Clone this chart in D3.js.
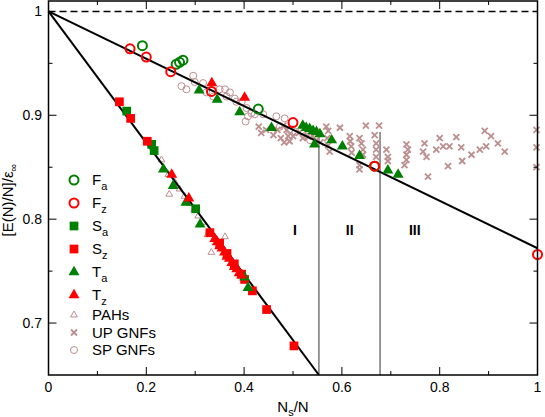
<!DOCTYPE html>
<html lang="en">
<head>
    <meta charset="UTF-8">
    <script type="text/javascript" src="https://cdnjs.cloudflare.com/ajax/libs/d3/7.8.5/d3.min.js"></script>
    <title>E(N)/N vs Ns/N</title>
    <style>
        body { margin: 0; background: #fff; }
        text { font-family: "Liberation Sans", Arial, sans-serif; }
    </style>
</head>
<body>
<script type="text/javascript">
    // ---- data ----
    var fA = [[0.192,0.967],[0.261,0.949],[0.268,0.951],[0.275,0.953],[0.429,0.906],[0.667,0.851]];
    var fZ = [[0.1667,0.964],[0.2,0.956],[0.25,0.942],[0.3333,0.923],[0.5,0.893],[0.6667,0.851],[1,0.766]];
    var sA = [[0.160,0.904],[0.211,0.872],[0.216,0.866],[0.301,0.810]];
    var sZ = [[0.145,0.913],[0.168,0.897],[0.202,0.875],[0.330,0.787],[0.350,0.777],[0.365,0.767],
              [0.380,0.757],[0.395,0.747],[0.401,0.742],[0.417,0.731],[0.446,0.713],[0.502,0.678]];
    var tA = [[0.235,0.848],[0.255,0.832],[0.281,0.816],[0.310,0.795],[0.401,0.744],[0.408,0.734],
              [0.308,0.924],[0.345,0.915],[0.391,0.903],[0.456,0.888],
              [0.520,0.890],[0.527,0.888],[0.534,0.887],[0.541,0.885],[0.548,0.884],[0.555,0.882],
              [0.544,0.872],[0.579,0.876],[0.601,0.870],[0.636,0.861],[0.694,0.847],[0.715,0.843]];
    var tZ = [[0.252,0.843],[0.287,0.820],[0.340,0.781],[0.345,0.778],[0.350,0.774],[0.355,0.772],
              [0.360,0.768],[0.365,0.764],[0.370,0.762],[0.375,0.758],[0.380,0.754],[0.385,0.752],
              [0.390,0.748],[0.395,0.746],[0.334,0.931],[0.401,0.917]];
    var pahs = [[0.231,0.857],[0.247,0.824],[0.245,0.843],[0.258,0.836],[0.268,0.829],[0.278,0.822],
                [0.288,0.815],[0.298,0.809],[0.306,0.803],[0.316,0.797],[0.325,0.785],[0.333,0.768],
                [0.342,0.781],[0.352,0.775],[0.361,0.783],[0.372,0.762],[0.384,0.755],[0.396,0.748]];
    var upGNFs = [[0.430,0.889],[0.435,0.883],[0.445,0.886],[0.460,0.881],[0.468,0.886],[0.475,0.878],
                  [0.480,0.890],[0.482,0.874],[0.490,0.880],[0.487,0.886],[0.493,0.875],[0.500,0.880],
                  [0.512,0.883],[0.520,0.878],[0.530,0.880],[0.540,0.880],[0.548,0.876],[0.556,0.874],
                  [0.568,0.889],[0.572,0.885],[0.570,0.878],[0.572,0.871],[0.575,0.865],
                  [0.596,0.888],[0.616,0.880],[0.617,0.875],[0.619,0.870],[0.620,0.864],
                  [0.636,0.878],[0.640,0.873],[0.643,0.867],[0.643,0.862],[0.636,0.852],[0.636,0.848],
                  [0.649,0.890],[0.676,0.890],[0.667,0.881],[0.670,0.873],[0.670,0.867],[0.670,0.860],
                  [0.691,0.867],[0.694,0.860],[0.694,0.856],
                  [0.732,0.872],[0.735,0.867],[0.732,0.862],[0.732,0.857],[0.728,0.852],
                  [0.769,0.873],[0.766,0.865],[0.773,0.860],[0.776,0.841],[0.793,0.867],
                  [0.800,0.878],[0.807,0.870],[0.820,0.870],[0.817,0.851],[0.834,0.879],
                  [0.844,0.869],[0.846,0.856],[0.865,0.862],[0.882,0.867],[0.892,0.885],
                  [0.905,0.880],[0.895,0.870],[0.919,0.873],[0.933,0.865],
                  [0.998,0.886],[0.998,0.869],[0.998,0.850]];
    var spGNFs = [[0.272,0.928],[0.282,0.925],[0.296,0.938],[0.299,0.932],[0.316,0.931],[0.323,0.922],
                  [0.337,0.918],[0.350,0.925],[0.361,0.925],[0.364,0.918],[0.371,0.922],[0.381,0.916],
                  [0.384,0.913],[0.395,0.913],[0.405,0.907],[0.408,0.899],[0.415,0.902],[0.422,0.901],
                  [0.403,0.894],[0.439,0.901],[0.466,0.899],[0.473,0.889],[0.483,0.897],[0.492,0.886],
                  [0.505,0.884],[0.525,0.880],[0.535,0.876]];

    var upperFit = [[0,1],[1,0.772]];
    var lowerFit = [[0,1],[0.553,0.65]];
    var dividers = [0.553,0.678];
    var regionNames = ["I","II","III"];
    var regionX = [0.504,0.616,0.749];

    var xTicks = [0,0.2,0.4,0.6,0.8,1];
    var xMinor = [0.1,0.3,0.5,0.7,0.9];
    var yTicks = [0.7,0.8,0.9,1];
    var yMinor = [0.75,0.85,0.95];

    var legendLabels = ["F","F","S","S","T","T","PAHs","UP GNFs","SP GNFs"];
    var legendSubs = ["a","z","a","z","a","z","","",""];
    var legendMarks = ["ringG","ringR","sqG","sqR","triG","triR","pah","up","sp"];

    var green = "#008000", red = "#ff0000", pink = "#bc8f8f";

    var svg = d3.select("body").append("svg")
            .attr("width",545)
            .attr("height",417);

    var x = d3.scaleLinear().domain([0,1]).range([48.5,537.5]);
    var y = d3.scaleLinear().domain([0.65,1.01]).range([375,1]);

    // marker drawers
    var triPath = d3.symbol().type(d3.symbolTriangle).size(52)();
    var pahPath = d3.symbol().type(d3.symbolTriangle).size(20)();
    var sqPath = d3.symbol().type(d3.symbolSquare).size(76)();
    var xPath = "M-3,-3L3,3M-3,3L3,-3";

    function mark(g, kind){
        if(kind=="ringG" || kind=="ringR"){
            g.append("circle").attr("r",4.5).attr("fill","none")
                    .attr("stroke",kind=="ringG"?green:red).attr("stroke-width",2);
        } else if(kind=="sqG" || kind=="sqR"){
            g.append("path").attr("d",sqPath).attr("fill",kind=="sqG"?green:red);
        } else if(kind=="triG" || kind=="triR"){
            g.append("path").attr("d",triPath).attr("fill",kind=="triG"?green:red);
        } else if(kind=="pah"){
            g.append("path").attr("d",pahPath).attr("fill","none").attr("stroke",pink).attr("stroke-width",1);
        } else if(kind=="up"){
            g.append("path").attr("d",xPath).attr("fill","none").attr("stroke",pink).attr("stroke-width",1.8);
        } else if(kind=="sp"){
            g.append("circle").attr("r",3.5).attr("fill","none").attr("stroke",pink).attr("stroke-width",1);
        }
    }

    function drawSeries(data, kind){
        svg.append("g").selectAll("g")
                .data(data)
                .enter()
                .append("g")
                .attr("transform",function(d){ return "translate(" + x(d[0]) + "," + y(d[1]) + ")"; })
                .each(function(){ mark(d3.select(this), kind); });
    }

    // dashed reference at 1
    svg.append("line")
            .attr("x1",x(0)).attr("x2",x(1))
            .attr("y1",y(1)).attr("y2",y(1))
            .attr("stroke","#000").attr("stroke-width",1.5)
            .attr("stroke-dasharray","7,4");

    // region dividers
    svg.selectAll("line.div")
            .data(dividers)
            .enter()
            .append("line")
            .attr("class","div")
            .attr("x1",function(d){return x(d);}).attr("x2",function(d){return x(d);})
            .attr("y1",y(0.884)).attr("y2",y(0.65))
            .attr("stroke","#555").attr("stroke-width",1.2);

    svg.selectAll("text.region")
            .data(regionNames)
            .enter()
            .append("text")
            .attr("class","region")
            .attr("x",function(d,i){return x(regionX[i]);})
            .attr("y",y(0.785))
            .attr("text-anchor","middle")
            .attr("font-size",14)
            .attr("font-weight","bold")
            .text(function(d){return d;});

    // background groups first
    drawSeries(spGNFs,"sp");
    drawSeries(upGNFs,"up");
    drawSeries(pahs,"pah");

    // fits
    var line = d3.line().x(function(d){return x(d[0]);}).y(function(d){return y(d[1]);});
    [upperFit, lowerFit].forEach(function(f){
        svg.append("path").attr("d",line(f)).attr("fill","none")
                .attr("stroke","#000").attr("stroke-width",2);
    });

    drawSeries(sA,"sqG");
    drawSeries(sZ,"sqR");
    drawSeries(tA,"triG");
    drawSeries(tZ,"triR");
    drawSeries(fA,"ringG");
    drawSeries(fZ,"ringR");

    // frame
    svg.append("rect")
            .attr("x",x(0)).attr("y",y(1.01))
            .attr("width",x(1)-x(0)).attr("height",y(0.65)-y(1.01))
            .attr("fill","none").attr("stroke","#000").attr("stroke-width",1.5);

    // ticks, pointing inwards on all four sides
    var tg = svg.append("g").attr("stroke","#000").attr("stroke-width",1);
    function xt(vals, len){
        vals.forEach(function(v){
            tg.append("line").attr("x1",x(v)).attr("x2",x(v)).attr("y1",y(0.65)).attr("y2",y(0.65)-len);
            tg.append("line").attr("x1",x(v)).attr("x2",x(v)).attr("y1",y(1.01)).attr("y2",y(1.01)+len);
        });
    }
    function yt(vals, len){
        vals.forEach(function(v){
            tg.append("line").attr("y1",y(v)).attr("y2",y(v)).attr("x1",x(0)).attr("x2",x(0)+len);
            tg.append("line").attr("y1",y(v)).attr("y2",y(v)).attr("x1",x(1)).attr("x2",x(1)-len);
        });
    }
    xt(xTicks.slice(1,-1),8); xt(xMinor,4);
    yt(yTicks.slice(0,-1),8); yt(yMinor,4);

    svg.selectAll("text.xt")
            .data(xTicks)
            .enter()
            .append("text")
            .attr("class","xt")
            .attr("x",function(d){return x(d);})
            .attr("y",392)
            .attr("text-anchor","middle")
            .attr("font-size",14)
            .text(function(d){return d3.format("~g")(d);});

    svg.selectAll("text.yt")
            .data(yTicks)
            .enter()
            .append("text")
            .attr("class","yt")
            .attr("x",42)
            .attr("y",function(d){return y(d);})
            .attr("dy","0.36em")
            .attr("text-anchor","end")
            .attr("font-size",14)
            .text(function(d){return d3.format("~g")(d);});

    // axis titles
    var xl = svg.append("text").attr("x",293).attr("y",412).attr("text-anchor","middle").attr("font-size",15);
    xl.append("tspan").text("N");
    xl.append("tspan").attr("font-size",11).attr("dy",4).text("s");
    xl.append("tspan").attr("dy",-4).text("/N");

    var yl = svg.append("text")
            .attr("transform","translate(13,200) rotate(-90)")
            .attr("text-anchor","middle").attr("font-size",15);
    yl.append("tspan").text("[E(N)/N]/ε");
    yl.append("tspan").attr("font-size",11).attr("dy",4).text("∞");

    // legend
    var ly = 180, rows = [];
    legendLabels.forEach(function(l,i){
        if(i>0){ ly += legendSubs[i] ? 23 : (legendSubs[i-1] ? 20 : 17.5); }
        rows.push(ly);
    });
    var lg = svg.append("g").selectAll("g")
            .data(legendLabels)
            .enter()
            .append("g")
            .attr("transform",function(d,i){ return "translate(74," + rows[i] + ")"; });
    lg.each(function(d,i){
        var g = d3.select(this);
        mark(g, legendMarks[i]);
        var t = g.append("text").attr("x",18).attr("y",5).attr("font-size",15);
        t.append("tspan").text(d);
        if(legendSubs[i]){
            t.append("tspan").attr("font-size",11).attr("dy",5).text(legendSubs[i]);
        }
    });
</script>
</body>
</html>
